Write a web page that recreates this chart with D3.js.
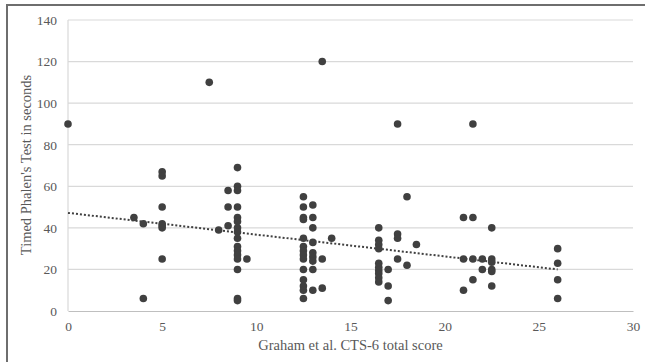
<!DOCTYPE html>
<html>
<head>
<meta charset="utf-8">
<script src="https://cdn.jsdelivr.net/npm/d3@7"></script>
<style>
  body { margin: 0; background: #fff; }
  text { font-family: "Liberation Serif", "Times New Roman", serif; fill: #595959; }
</style>
</head>
<body>
<script>
// CTS-6 score (x) and timed Phalen's test seconds (y)
var scores = [
  0, 3.5, 4, 4,
  5, 5, 5, 5, 5, 5, 5,
  7.5, 8, 8.5, 8.5, 8.5,
  9, 9, 9, 9, 9, 9, 9, 9, 9, 9, 9, 9, 9, 9, 9, 9,
  9.5,
  12.5, 12.5, 12.5, 12.5, 12.5, 12.5, 12.5, 12.5, 12.5, 12.5, 12.5, 12.5, 12.5, 12.5,
  13, 13, 13, 13, 13, 13, 13, 13, 13,
  13.5, 13.5, 13.5, 14,
  16.5, 16.5, 16.5, 16.5, 16.5, 16.5, 16.5, 16.5, 16.5, 16.5,
  17, 17, 17,
  17.5, 17.5, 17.5, 17.5,
  18, 18, 18.5,
  21, 21, 21,
  21.5, 21.5, 21.5, 21.5,
  22, 22,
  22.5, 22.5, 22.5, 22.5, 22.5, 22.5,
  26, 26, 26, 26
];
var seconds = [
  90, 45, 42, 6,
  67, 65, 50, 42, 41, 40, 25,
  110, 39, 58, 50, 41,
  69, 60, 58, 50, 45, 43, 40, 38, 35, 31, 29, 27, 25, 20, 6, 5,
  25,
  55, 50, 45, 44, 35, 31, 29, 27, 25, 20, 15, 12, 10, 6,
  51, 45, 40, 33, 28, 26, 24, 20, 10,
  120, 25, 11, 35,
  40, 34, 32, 30, 23, 21, 19.5, 18, 16, 14,
  20, 12, 5,
  90, 37, 35, 25,
  55, 22, 32,
  45, 25, 10,
  90, 45, 25, 15,
  25, 20,
  40, 25, 23.5, 20, 19, 12,
  30, 23, 15, 6
];
// linear trend line as drawn in the picture (ends)
var trendX = [0, 26];
var trendY = [47.2, 20];

var xTicks = [0, 5, 10, 15, 20, 25, 30];
var yTicks = [0, 20, 40, 60, 80, 100, 120, 140];
var xTitle = "Graham et al. CTS-6 total score";
var yTitle = "Timed Phalen's Test in seconds";

var width = 645, height = 362;
var margin = {top: 20, right: 12, bottom: 51, left: 68};
var w = width - margin.left - margin.right;
var h = height - margin.top - margin.bottom;

var svg = d3.select("body").append("svg")
    .attr("width", width)
    .attr("height", height);

// frame on the left and top edges
svg.append("path")
    .attr("d", "M7," + height + "V5H" + width)
    .attr("fill", "none")
    .attr("stroke", "#6e6e6e")
    .attr("stroke-width", 2);

var g = svg.append("g")
    .attr("transform", "translate(" + margin.left + "," + margin.top + ")");

var x = d3.scaleLinear().domain([0, 30]).range([0, w]);
var y = d3.scaleLinear().domain([0, 140]).range([h, 0]);

// horizontal grid
g.selectAll(".grid")
    .data(yTicks.slice(1))
    .enter().append("line")
    .attr("class", "grid")
    .attr("x1", 0).attr("x2", w)
    .attr("y1", function(d) { return y(d); })
    .attr("y2", function(d) { return y(d); })
    .attr("stroke", "#d9d9d9")
    .attr("stroke-width", 1.2);

// y axis line
g.append("line")
    .attr("x1", 0).attr("x2", 0)
    .attr("y1", 0).attr("y2", h)
    .attr("stroke", "#d9d9d9")
    .attr("stroke-width", 1.2);

var yAxis = g.append("g")
    .call(d3.axisLeft(y).tickValues(yTicks).tickSize(0).tickPadding(11));
yAxis.select(".domain").remove();
yAxis.selectAll("text").attr("font-size", 13.5).attr("fill", "#595959")
    .style("font-family", "Liberation Serif, serif");

var xAxis = g.append("g")
    .attr("transform", "translate(0," + h + ")")
    .call(d3.axisBottom(x).tickValues(xTicks).tickSize(0).tickPadding(10));
xAxis.select(".domain").attr("stroke", "#bfbfbf").attr("stroke-width", 1.2);
xAxis.selectAll("text").attr("font-size", 13.5).attr("fill", "#595959")
    .style("font-family", "Liberation Serif, serif");

// dotted trend line
var trend = trendX.map(function(v, i) { return [v, trendY[i]]; });
g.append("path")
    .datum(trend)
    .attr("d", d3.line()
        .x(function(d) { return x(d[0]); })
        .y(function(d) { return y(d[1]); }))
    .attr("fill", "none")
    .attr("stroke", "#404040")
    .attr("stroke-width", 2)
    .attr("stroke-dasharray", "2,2");

var points = scores.map(function(s, i) { return {x: s, y: seconds[i]}; });
g.selectAll("circle")
    .data(points)
    .enter().append("circle")
    .attr("cx", function(d) { return x(d.x); })
    .attr("cy", function(d) { return y(d.y); })
    .attr("r", 3.8)
    .attr("fill", "#404040");

// axis titles
svg.append("text")
    .attr("x", margin.left + x(15))
    .attr("y", 350)
    .attr("text-anchor", "middle")
    .attr("font-size", 14.5)
    .text(xTitle);

svg.append("text")
    .attr("transform", "translate(31,165) rotate(-90)")
    .attr("text-anchor", "middle")
    .attr("font-size", 14.5)
    .text(yTitle);
</script>
</body>
</html>
